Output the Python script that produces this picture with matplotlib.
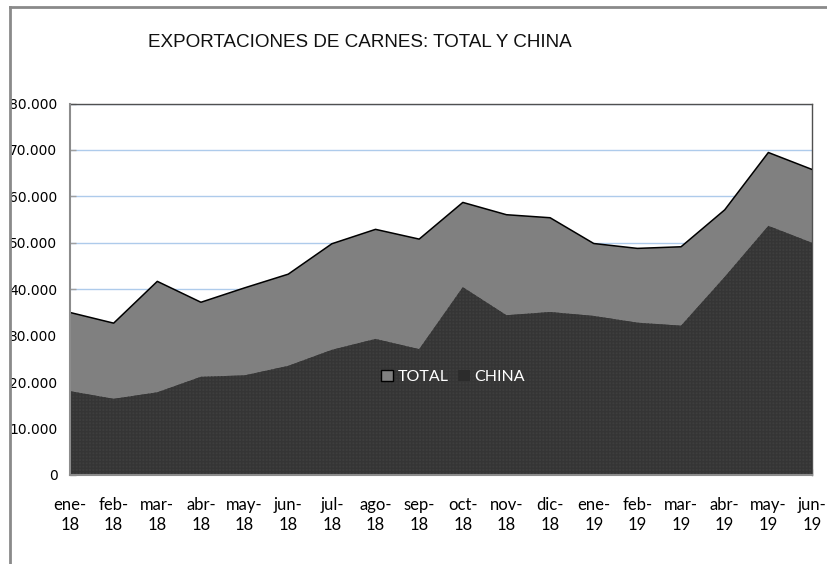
import matplotlib

matplotlib.use("Agg")
import matplotlib.pyplot as plt
import numpy as np
from matplotlib.lines import Line2D
from matplotlib.patches import Patch

# ------------------------------------------------------------------ datos

meses = ["ene-\n18", "feb-\n18", "mar-\n18", "abr-\n18", "may-\n18", "jun-\n18",
         "jul-\n18", "ago-\n18", "sep-\n18", "oct-\n18", "nov-\n18", "dic-\n18",
         "ene-\n19", "feb-\n19", "mar-\n19", "abr-\n19", "may-\n19", "jun-\n19"]
total = [35000, 32700, 41700, 37200, 40300, 43250, 49800, 52900, 50800,
         58700, 56050, 55400, 49850, 48800, 49150, 57100, 69450, 65800]
china = [18050, 16400, 17800, 21150, 21450, 23500, 26950, 29300, 27100,
         40450, 34400, 35100, 34250, 32800, 32150, 42650, 53650, 50000]
y_ticks = [0, 10000, 20000, 30000, 40000, 50000, 60000, 70000, 80000]
y_labels = ["0", "10.000", "20.000", "30.000", "40.000", "50.000",
            "60.000", "70.000", "80.000"]

W, H = 828, 564
fig = plt.figure(figsize=(W / 100, H / 100), dpi=100)

# marco exterior (solo borde superior e izquierdo visibles)
fig.add_artist(Line2D([10 / W, 10 / W], [0, 1 - 7 / H], transform=fig.transFigure,
                      color="#8a8a8a", lw=2))
fig.add_artist(Line2D([10 / W, 1], [1 - 7 / H, 1 - 7 / H], transform=fig.transFigure,
                      color="#8a8a8a", lw=2))

ax = fig.add_axes([70 / W, (H - 475) / H, (812 - 70) / W, (475 - 103.5) / H])

x = np.arange(len(meses))
ax.fill_between(x, 0, total, facecolor="#808080", edgecolor="none", zorder=2)
ax.plot(x, total, color="black", lw=1.1, zorder=3)
ax.fill_between(x, 0, china, facecolor="#3e3e3e", edgecolor="#353535",
                hatch="+++++", linewidth=0, zorder=4)

ax.set_xlim(0, len(meses) - 1)
ax.set_ylim(0, 80000)
ax.set_yticks(y_ticks, y_labels)
ax.set_xticks(x, meses)
ax.grid(axis="y", color="#aecbeb", lw=1)
ax.set_axisbelow(True)

for s in ("top", "right"):
    ax.spines[s].set_color("#505050")
    ax.spines[s].set_linewidth(1)
for s in ("left", "bottom"):
    ax.spines[s].set_color("#8c8c8c")
    ax.spines[s].set_linewidth(1.5)
    ax.spines[s].set_zorder(5)

ax.tick_params(axis="both", direction="in", length=4, color="#a0a0a0", width=1)
ax.tick_params(axis="y", pad=9, labelsize=10)
ax.tick_params(axis="x", pad=16)
for lab in ax.get_yticklabels():
    lab.set_fontfamily("DejaVu Sans")
for lab in ax.get_xticklabels():
    lab.set_fontfamily("Lato")
    lab.set_fontsize(12)
    lab.set_linespacing(1.3)

fig.text(360 / W, 1 - 47 / H, "EXPORTACIONES DE CARNES: TOTAL Y CHINA",
         ha="center", va="baseline", fontsize=13.6, family="Liberation Sans",
         color="#111111")

handles = [
    Patch(facecolor="#808080", edgecolor="black", lw=1, label="TOTAL"),
    Patch(facecolor="#2c2c2c", edgecolor="none", label="CHINA"),
]
leg = fig.legend(handles=handles, loc="center", ncol=2, frameon=False,
                 bbox_to_anchor=(453 / W, 1 - 377 / H),
                 handlelength=0.75, handleheight=0.75, handletextpad=0.3,
                 columnspacing=0.6, prop={"family": "Lato", "size": 11.5})
for t in leg.get_texts():
    t.set_color("white")
leg.set_zorder(10)

fig.savefig("out.png", dpi=100)
